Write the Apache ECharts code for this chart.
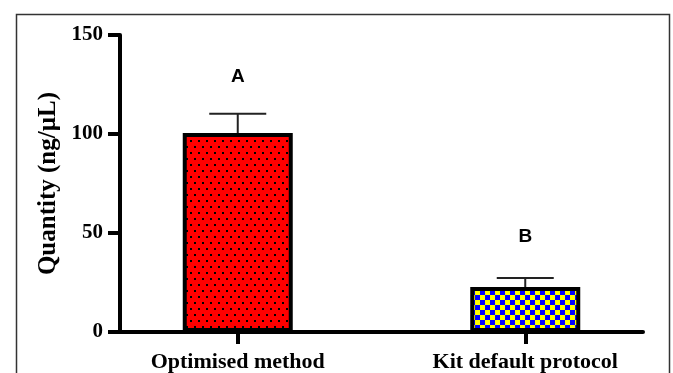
<!DOCTYPE html>
<html><head><meta charset="utf-8">
<script src="https://cdn.jsdelivr.net/npm/echarts@6/dist/echarts.min.js"></script>
<style>html,body{margin:0;padding:0;background:#fff}#c{width:673px;height:373px}</style>
</head><body><div id="c"></div>
<script>
const categories = ['Optimised method', 'Kit default protocol'];
const means = [100.5, 22.7];
const errors = [9.7, 4.6];
const sigLetters = ['A', 'B'];
const sigHeights = [129, 48];
const yTickStep = 50;
const yMax = 150;

function makePattern(w, h, draw) {
  const c = document.createElement('canvas');
  c.width = w; c.height = h;
  draw(c.getContext('2d'));
  return { image: c, repeat: 'repeat' };
}
const dots = makePattern(8, 12, ctx => {
  ctx.fillStyle = '#ff0000'; ctx.fillRect(0, 0, 8, 12);
  ctx.fillStyle = '#000'; ctx.fillRect(2, 2, 2, 2); ctx.fillRect(6, 8, 2, 2);
});
const checker = makePattern(10, 10, ctx => {
  ctx.fillStyle = '#ffff00'; ctx.fillRect(0, 0, 10, 10);
  ctx.fillStyle = '#0000ff'; ctx.fillRect(0, 0, 5, 5); ctx.fillRect(5, 5, 5, 5);
});
const fills = [dots, checker];

const chart = echarts.init(document.getElementById('c'), null, { renderer: 'canvas' });
const serif = '"Liberation Serif", "Times New Roman", serif';
const sans = '"Liberation Sans", Arial, sans-serif';

chart.setOption({
  animation: false,
  backgroundColor: '#fff',
  graphic: [{
    type: 'rect', left: 14, top: 12, z: -1,
    shape: { width: 653, height: 400 },
    style: { fill: 'none', stroke: '#333', lineWidth: 1.5 }
  }],
  grid: [
    { left: 120, right: 30, top: 35, bottom: 41 },
    { left: 94, right: 4, top: 35, bottom: 41 }
  ],
  xAxis: [
    { gridIndex: 0, type: 'category', data: categories,
      axisLine: { lineStyle: { color: '#000', width: 4 } },
      axisTick: { show: false }, axisLabel: { show: false }, splitLine: { show: false } },
    { gridIndex: 1, type: 'category', data: categories,
      axisLine: { show: false },
      axisTick: { show: true, alignWithLabel: true, length: 12, lineStyle: { color: '#000', width: 4 } },
      axisLabel: { color: '#000', fontFamily: serif, fontWeight: 'bold', fontSize: 22, margin: 19 } }
  ],
  yAxis: [
    { gridIndex: 0, type: 'value', min: 0, max: yMax, interval: yTickStep,
      axisLine: { show: true, lineStyle: { color: '#000', width: 4 } },
      axisTick: { show: true, length: 12, lineStyle: { color: '#000', width: 4 } },
      axisLabel: { color: '#000', fontFamily: serif, fontWeight: 'bold', fontSize: 21, margin: 17 },
      splitLine: { show: false },
      name: 'Quantity (ng/µL)', nameLocation: 'middle', nameGap: 58,
      nameTextStyle: { color: '#000', fontFamily: serif, fontWeight: 'bold', fontSize: 25 } },
    { gridIndex: 1, type: 'value', min: 0, max: yMax, show: false }
  ],
  series: [
    { type: 'bar', xAxisIndex: 1, yAxisIndex: 1, barWidth: 110,
      data: means.map((v, i) => ({ value: v, itemStyle: { color: fills[i] } })),
      itemStyle: { borderColor: '#000', borderWidth: 4 }, z: 3 },
    { type: 'custom', xAxisIndex: 1, yAxisIndex: 1, z: 2,
      data: means.map((m, i) => [i, m, m + errors[i]]),
      renderItem: (params, api) => {
        const base = api.coord([api.value(0), api.value(1)]);
        const top = api.coord([api.value(0), api.value(2)]);
        const half = 28.5;
        const st = { stroke: '#222', lineWidth: 2 };
        return { type: 'group', children: [
          { type: 'line', shape: { x1: base[0], y1: base[1], x2: top[0], y2: top[1] }, style: st },
          { type: 'line', shape: { x1: top[0] - half, y1: top[1], x2: top[0] + half, y2: top[1] }, style: st }
        ] };
      } },
    { type: 'custom', xAxisIndex: 1, yAxisIndex: 1, z: 4,
      data: sigHeights.map((v, i) => [i, v]),
      renderItem: (params, api) => {
        const p = api.coord([api.value(0), api.value(1)]);
        return { type: 'text', x: p[0], y: p[1], style: {
          text: sigLetters[params.dataIndex], fill: '#000', align: 'center', verticalAlign: 'middle',
          font: 'bold 19px ' + sans } };
      } }
  ]
});
</script></body></html>
